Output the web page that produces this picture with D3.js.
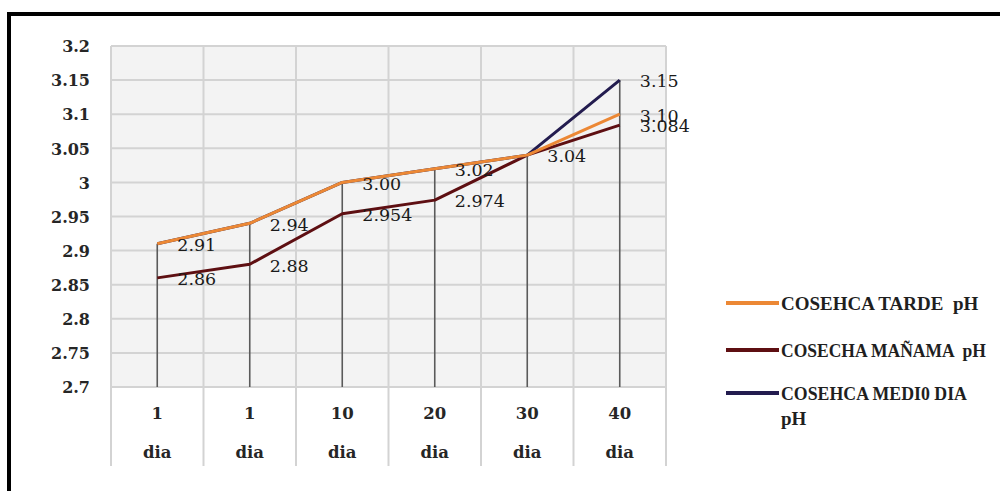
<!DOCTYPE html>
<html>
<head>
<meta charset="utf-8">
<script src="https://cdn.jsdelivr.net/npm/d3@7"></script>
<style>
  html, body { margin: 0; padding: 0; background: #fff; }
  svg { display: block; }
</style>
</head>
<body>
<svg id="chart" width="1000" height="491"></svg>
<script>
// Harvest days (category axis, two lines per label)
const dayNumbers = ["1", "1", "10", "20", "30", "40"];
const dayUnit = "dia";

// pH per harvest time
const tardeValues  = [2.91, 2.94, 3.00, 3.02, 3.04, 3.10];
const mananaValues = [2.86, 2.88, 2.954, 2.974, 3.04, 3.084];
const medioValues  = [2.91, 2.94, 3.00, 3.02, 3.04, 3.15];

const tardeLabels  = ["2.91", "2.94", "3.00", "3.02", "3.04", "3.10"];
const mananaLabels = ["2.86", "2.88", "2.954", "2.974", "3.04", "3.084"];
const medioLabels  = ["2.91", "2.94", "3.00", "3.02", "3.04", "3.15"];

const yTicks = [2.7, 2.75, 2.8, 2.85, 2.9, 2.95, 3, 3.05, 3.1, 3.15, 3.2];

const seriesNames = ["COSEHCA TARDE  pH", "COSECHA MAÑAMA  pH", "COSEHCA MEDI0 DIA"];
const seriesNameExtra = ["", "", "pH"];
const seriesColors = ["#ec8835", "#5e0f12", "#231c4f"];

const series = [
  { name: seriesNames[0], extra: seriesNameExtra[0], values: tardeValues,  labels: tardeLabels,  color: seriesColors[0] },
  { name: seriesNames[1], extra: seriesNameExtra[1], values: mananaValues, labels: mananaLabels, color: seriesColors[1] },
  { name: seriesNames[2], extra: seriesNameExtra[2], values: medioValues,  labels: medioLabels,  color: seriesColors[2] }
];

const svg = d3.select("#chart");
const plot = { left: 111, right: 666, top: 46, bottom: 387, axisBottom: 466 };

const idx = dayNumbers.map((d, i) => i);
const x = d3.scaleBand().domain(idx).range([plot.left, plot.right]);
const y = d3.scaleLinear().domain([2.7, 3.2]).range([plot.bottom, plot.top]);

// Frame (top and left edges)
svg.append("line").attr("x1", 9).attr("x2", 1000).attr("y1", 14).attr("y2", 14)
  .attr("stroke", "#000").attr("stroke-width", 4);
svg.append("line").attr("x1", 9).attr("x2", 9).attr("y1", 12).attr("y2", 491)
  .attr("stroke", "#000").attr("stroke-width", 4);

// Plot background
svg.append("rect")
  .attr("x", plot.left).attr("y", plot.top)
  .attr("width", plot.right - plot.left).attr("height", plot.bottom - plot.top)
  .attr("fill", "#f3f3f3");

// Horizontal gridlines
svg.append("g").selectAll("line").data(yTicks).join("line")
  .attr("x1", plot.left).attr("x2", plot.right)
  .attr("y1", d => y(d)).attr("y2", d => y(d))
  .attr("stroke", "#d3d3d3").attr("stroke-width", 2);

// Vertical category boundaries (extend through the axis label area)
const bounds = idx.map(i => x(i)).concat([x(idx[idx.length - 1]) + x.bandwidth()]);
svg.append("g").selectAll("line").data(bounds).join("line")
  .attr("x1", d => d).attr("x2", d => d)
  .attr("y1", plot.top).attr("y2", plot.axisBottom)
  .attr("stroke", "#d3d3d3").attr("stroke-width", 2);

// Drop lines from the highest point of each category
const cx = i => x(i) + x.bandwidth() / 2;
svg.append("g").selectAll("line").data(idx).join("line")
  .attr("x1", i => cx(i)).attr("x2", i => cx(i))
  .attr("y1", i => y(d3.max(series, s => s.values[i])))
  .attr("y2", plot.bottom)
  .attr("stroke", "#5a5a5a").attr("stroke-width", 1.6);

// Y axis
const yAxis = d3.axisLeft(y).tickValues(yTicks).tickSize(0).tickPadding(21)
  .tickFormat(d => String(+d.toFixed(2)));
const yg = svg.append("g").attr("transform", `translate(${plot.left},0)`).call(yAxis);
yg.select(".domain").remove();
yg.selectAll("text")
  .attr("font-family", "DejaVu Serif").attr("font-weight", "bold")
  .attr("font-size", 16).attr("fill", "#262626").attr("dy", "0.36em");

// X axis (number on one line, unit below)
const xAxis = d3.axisBottom(x).tickSize(0).tickFormat(i => dayNumbers[i]);
const xg = svg.append("g").attr("transform", `translate(0,${plot.bottom})`).call(xAxis);
xg.select(".domain").remove();
xg.selectAll("text").each(function(i) {
  const t = d3.select(this);
  t.text(null).attr("y", 0).attr("dy", null)
    .attr("font-family", "DejaVu Serif").attr("font-weight", "bold")
    .attr("font-size", 16.5).attr("fill", "#262626");
  t.append("tspan").attr("x", 0).attr("y", 32).text(dayNumbers[i]);
  t.append("tspan").attr("x", 0).attr("y", 71).text(dayUnit);
});

// Lines (drawn so the afternoon series sits on top)
const line = d3.line().x((d, i) => cx(i)).y(d => y(d));
const drawOrder = [1, 2, 0];
drawOrder.forEach(k => {
  const s = series[k];
  svg.append("path").datum(s.values)
    .attr("d", line).attr("fill", "none")
    .attr("stroke", s.color).attr("stroke-width", 3)
    .attr("stroke-linejoin", "round");
});

// Data labels; a label that repeats an identical label already placed at
// the same point is skipped so coincident values are written once
const placed = new Set();
drawOrder.forEach(k => {
  const s = series[k];
  const pts = s.values.map((v, i) => ({ v, i, text: s.labels[i] }))
    .filter(p => {
      const key = p.i + "|" + p.text;
      if (placed.has(key)) return false;
      placed.add(key);
      return true;
    });
  svg.append("g").selectAll("text").data(pts).join("text")
    .attr("x", p => cx(p.i) + 20)
    .attr("y", p => y(p.v) + 1)
    .attr("dy", "0.36em")
    .attr("font-family", "DejaVu Serif").attr("font-size", 17.5)
    .attr("fill", "#1a1a1a")
    .text(p => p.text);
});

// Legend: condensed serif, each entry squeezed horizontally to its width
const legendY = [303, 350, 393];
const legendTextWidth = [200, 205, 186];
const lg = svg.append("g");
series.forEach((s, k) => {
  lg.append("line")
    .attr("x1", 726).attr("x2", 779)
    .attr("y1", legendY[k]).attr("y2", legendY[k])
    .attr("stroke", s.color).attr("stroke-width", 4);
  const row = lg.append("g");
  const t = row.append("text")
    .attr("x", 0).attr("y", 0).attr("dy", "0.36em")
    .attr("font-family", "Liberation Serif").attr("font-weight", "bold")
    .attr("font-size", 19).attr("fill", "#1f1f1f")
    .style("white-space", "pre")
    .text(s.name);
  const natural = t.node().getComputedTextLength();
  const sx = Math.min(1, legendTextWidth[k] / natural);
  row.attr("transform", `translate(781,${legendY[k]}) scale(${sx},1)`);
  if (s.extra) {
    lg.append("text")
      .attr("x", 781).attr("y", legendY[k] + 25).attr("dy", "0.36em")
      .attr("font-family", "Liberation Serif").attr("font-weight", "bold")
      .attr("font-size", 19).attr("fill", "#1f1f1f")
      .text(s.extra);
  }
});
</script>
</body>
</html>
